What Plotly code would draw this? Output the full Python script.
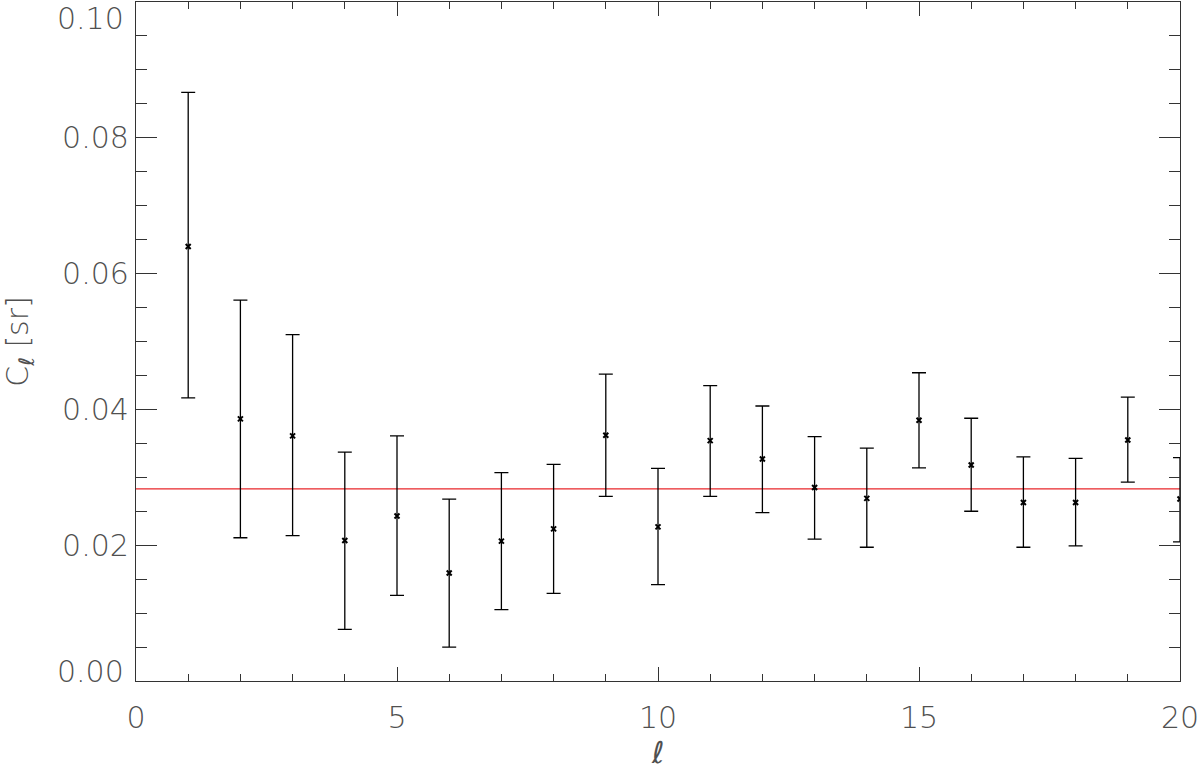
import plotly.graph_objects as go

ell = list(range(1, 21))
cl = [0.0640, 0.0386, 0.0361, 0.0207, 0.0243, 0.0159, 0.0206, 0.0224, 0.0362, 0.0227,
      0.0354, 0.0327, 0.0285, 0.0269, 0.0384, 0.0318, 0.0263, 0.0263, 0.0355, 0.0268]
cl_hi = [0.0867, 0.0561, 0.0510, 0.0337, 0.0361, 0.0268, 0.0307, 0.0319, 0.0452, 0.0313,
         0.0435, 0.0405, 0.0360, 0.0343, 0.0454, 0.0387, 0.0330, 0.0328, 0.0418, 0.0329]
cl_lo = [0.0417, 0.0211, 0.0214, 0.0076, 0.0126, 0.0050, 0.0105, 0.0129, 0.0272, 0.0142,
         0.0272, 0.0248, 0.0209, 0.0197, 0.0314, 0.0250, 0.0197, 0.0199, 0.0293, 0.0205]
mean_cl = 0.0283
x_range = [0, 20]
x_ticks = [0, 5, 10, 15, 20]
y_ticks = [0.02, 0.04, 0.06, 0.08]
# the end labels sit shifted off their ticks, as in the IDL original
y_end_labels = {0.0: '0.00', 0.1: '0.10'}

fig = go.Figure()
fig.add_trace(go.Scatter(
    x=x_range, y=[mean_cl, mean_cl], mode='lines',
    line=dict(color='#e8262a', width=1.3), showlegend=False
))
fig.add_trace(go.Scatter(
    x=ell, y=cl, mode='markers',
    marker=dict(symbol='x-thin', size=5, color='black', line=dict(width=2, color='black')),
    error_y=dict(type='data', symmetric=False,
                 array=[h - c for h, c in zip(cl_hi, cl)],
                 arrayminus=[c - l for c, l in zip(cl, cl_lo)],
                 color='black', thickness=1.3, width=7),
    showlegend=False
))

# thin grey lettering, like the IDL vector font
tickfont = dict(family='DejaVu Sans', size=30, color='#505050', weight=200)
titlefont = dict(family='DejaVu Sans', size=30, color='#505050', weight=200)

for yv, txt in y_end_labels.items():
    fig.add_annotation(x=0, xref='paper', y=yv, yref='y', text=txt, showarrow=False,
                       xanchor='right', yanchor='middle', xshift=-10,
                       yshift=10 if yv == 0.0 else -16, font=tickfont)

fig.update_layout(
    width=1200, height=770,
    margin=dict(l=136, r=20, t=2, b=89),
    plot_bgcolor='white', paper_bgcolor='white',
    xaxis=dict(
        range=x_range, tickvals=x_ticks, ticks='inside', ticklen=14,
        tickcolor='#333', showline=True, linecolor='#333', linewidth=1.3, mirror='ticks',
        showgrid=False, zeroline=False, tickfont=tickfont, automargin=False,
        ticklabeloverflow='allow', ticklabelstandoff=10,
        minor=dict(dtick=1, ticks='inside', ticklen=7, tickcolor='#333', showgrid=False),
        title=dict(text='<i>ℓ</i>', font=titlefont, standoff=14),
    ),
    yaxis=dict(
        range=[0, 0.1], tickvals=y_ticks, tickformat='.2f',
        ticks='inside', ticklen=21, tickcolor='#333', showline=True, linecolor='#333',
        linewidth=1.3, mirror='ticks', showgrid=False, zeroline=False, tickfont=tickfont,
        automargin=False, ticklabeloverflow='allow',
        minor=dict(dtick=0.005, ticks='inside', ticklen=11, tickcolor='#333', showgrid=False),
        title=dict(text='C<sub><i>ℓ</i></sub> [sr]', font=titlefont, standoff=30),
    ),
)

fig.write_html("out.html", config={'displayModeBar': False},
               post_script="document.body.style.margin = '0';")
